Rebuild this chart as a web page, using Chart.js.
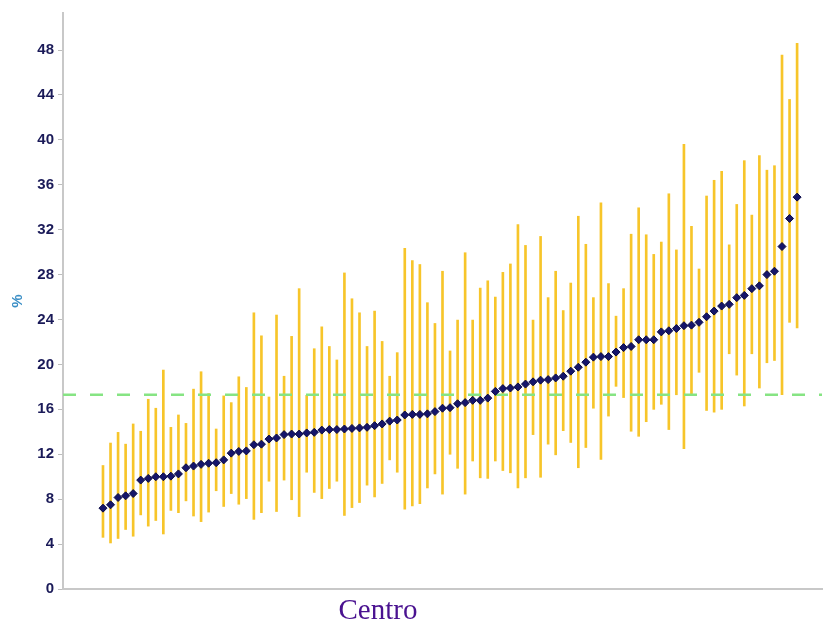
<!DOCTYPE html>
<html>
<head>
<meta charset="utf-8">
<script src="https://cdn.jsdelivr.net/npm/chart.js@4.4.1/dist/chart.umd.min.js"></script>
<style>
  html, body { margin: 0; padding: 0; background: #ffffff; }
  #wrap { position: relative; width: 827px; height: 629px; }
  #xtitle { position: absolute; left: 0; top: 593px; width: 756px; text-align: center;
            font-family: "Liberation Serif", "DejaVu Serif", serif; font-size: 29px; color: #4a1290; }
</style>
</head>
<body>
<div id="wrap">
  <canvas id="c" width="827" height="629"></canvas>
  <div id="xtitle">Centro</div>
</div>
<script>
// Point estimates (%) per centre, sorted ascending
const estimates = [
  7.2, 7.5, 8.15, 8.3, 8.5, 9.7, 9.85, 10.0, 10.0, 10.05,
  10.25, 10.8, 10.95, 11.1, 11.2, 11.25, 11.5, 12.1, 12.25, 12.3,
  12.85, 12.9, 13.35, 13.45, 13.75, 13.8, 13.8, 13.9, 13.95, 14.15,
  14.2, 14.2, 14.25, 14.3, 14.35, 14.4, 14.55, 14.7, 14.95, 15.05,
  15.5, 15.55, 15.55, 15.6, 15.8, 16.1, 16.15, 16.5, 16.6, 16.8,
  16.8, 17.0, 17.6, 17.85, 17.9, 18.0, 18.25, 18.45, 18.6, 18.65,
  18.8, 18.95, 19.4, 19.75, 20.2, 20.65, 20.7, 20.7, 21.1, 21.5,
  21.6, 22.2, 22.2, 22.2, 22.9, 23.0, 23.2, 23.45, 23.5, 23.75,
  24.25, 24.75, 25.2, 25.35, 25.95, 26.15, 26.75, 27.0, 28.0, 28.3,
  30.5, 33.0, 34.9
];
// Lower confidence limits
const lows = [
  4.6, 4.1, 4.5, 5.3, 4.7, 6.6, 5.6, 6.1, 4.9, 7.0,
  6.8, 7.85, 6.5, 6.0, 6.85, 8.75, 7.35, 8.5, 7.55, 8.05,
  6.2, 6.8, 9.6, 6.9, 9.7, 7.95, 6.45, 10.4, 8.6, 8.05,
  8.95, 9.6, 6.55, 7.25, 7.7, 9.25, 8.2, 9.4, 11.5, 10.4,
  7.1, 7.4, 7.6, 9.0, 10.25, 8.45, 12.0, 10.75, 8.45, 11.4,
  9.9, 9.85, 11.4, 10.55, 10.35, 9.0, 9.9, 13.75, 9.95, 12.9,
  11.95, 14.1, 13.05, 10.8, 12.6, 16.1, 11.55, 15.4, 18.05, 17.05,
  14.05, 13.6, 14.9, 16.0, 16.45, 14.2, 17.3, 12.5, 17.3, 19.3,
  15.9, 15.75, 16.0, 20.95, 19.05, 16.3, 20.95, 17.9, 20.15, 20.35,
  17.3, 23.75, 23.25
];
// Upper confidence limits
const highs = [
  11.0, 13.0, 13.95, 12.9, 14.7, 14.05, 16.9, 16.1, 19.5, 14.4,
  15.5, 14.75, 17.8, 19.35, 17.4, 14.25, 17.2, 16.6, 18.9, 17.95,
  24.6, 22.55, 17.1, 24.4, 18.95, 22.5, 26.75, 17.25, 21.4, 23.35,
  21.6, 20.4, 28.15, 25.85, 24.6, 21.6, 24.75, 22.05, 18.95, 21.05,
  30.35, 29.25, 28.9, 25.5, 23.65, 28.3, 21.2, 23.95, 29.95, 23.95,
  26.8, 27.45, 26.0, 28.2, 28.95, 32.45, 30.6, 23.95, 31.4, 25.95,
  28.3, 24.8, 27.25, 33.2, 30.7, 25.95, 34.4, 27.2, 24.3, 26.75,
  31.6, 33.95, 31.55, 29.8, 30.9, 35.2, 30.2, 39.6, 32.3, 28.5,
  35.0, 36.4, 37.2, 30.65, 34.25, 38.15, 33.3, 38.6, 37.3, 37.7,
  47.55, 43.6, 48.6
];
// Centre rank (category positions)
const centres = estimates.map((_, i) => i + 1);
// Reference (overall) value
const referenceValue = 17.3;
// Y tick labels
const yTicks = [0, 4, 8, 12, 16, 20, 24, 28, 32, 36, 40, 44, 48];

const X_MIN = -4.3, X_MAX = 96.3;

const barData = centres.map((c, i) => ({ x: c, y: [lows[i], highs[i]] }));
const pointData = centres.map((c, i) => ({ x: c, y: estimates[i] }));
const refData = [{ x: X_MIN, y: referenceValue }, { x: X_MAX, y: referenceValue }];

new Chart(document.getElementById('c'), {
  type: 'bar',
  data: {
    datasets: [
      {
        type: 'bar',
        data: barData,
        backgroundColor: '#F7C52A',
        borderWidth: 0,
        barThickness: 2,
        order: 3
      },
      {
        type: 'line',
        data: refData,
        borderColor: '#86E483',
        borderWidth: 2.5,
        borderDash: [13, 14],
        pointRadius: 0,
        fill: false,
        order: 2
      },
      {
        type: 'line',
        data: pointData,
        showLine: false,
        pointStyle: 'rectRot',
        pointRadius: 4,
        pointBackgroundColor: '#15156a',
        pointBorderColor: '#0b0b45',
        pointBorderWidth: 1,
        order: 1
      }
    ]
  },
  options: {
    responsive: false,
    animation: false,
    events: [],
    layout: { padding: { top: 8, right: 5, left: 0, bottom: 0 } },
    plugins: { legend: { display: false }, tooltip: { enabled: false } },
    scales: {
      x: {
        type: 'linear',
        min: X_MIN,
        max: X_MAX,
        offset: false,
        grid: { display: false },
        border: { display: true, color: '#c8c8c8', width: 2 },
        ticks: { display: false },
        afterFit: s => { s.height = 40; }
      },
      y: {
        type: 'linear',
        min: 0,
        max: 51.3,
        afterBuildTicks: s => { s.ticks = yTicks.map(v => ({ value: v })); },
        grid: { display: true, drawOnChartArea: false, drawTicks: true, tickLength: 5, color: '#bdbdbd', lineWidth: 1 },
        border: { display: true, color: '#c8c8c8', width: 2 },
        ticks: {
          padding: 4,
          color: '#1a1a58',
          font: { family: 'Liberation Sans, Arial, sans-serif', size: 15, weight: 'bold' }
        },
        title: {
          display: true,
          text: '%',
          color: '#3b8fc6',
          padding: { top: 9, bottom: 0 },
          font: { family: 'Liberation Sans, Arial, sans-serif', size: 15, weight: 'bold' }
        },
        afterFit: s => { s.width = 63; }
      }
    }
  }
});
</script>
</body>
</html>
